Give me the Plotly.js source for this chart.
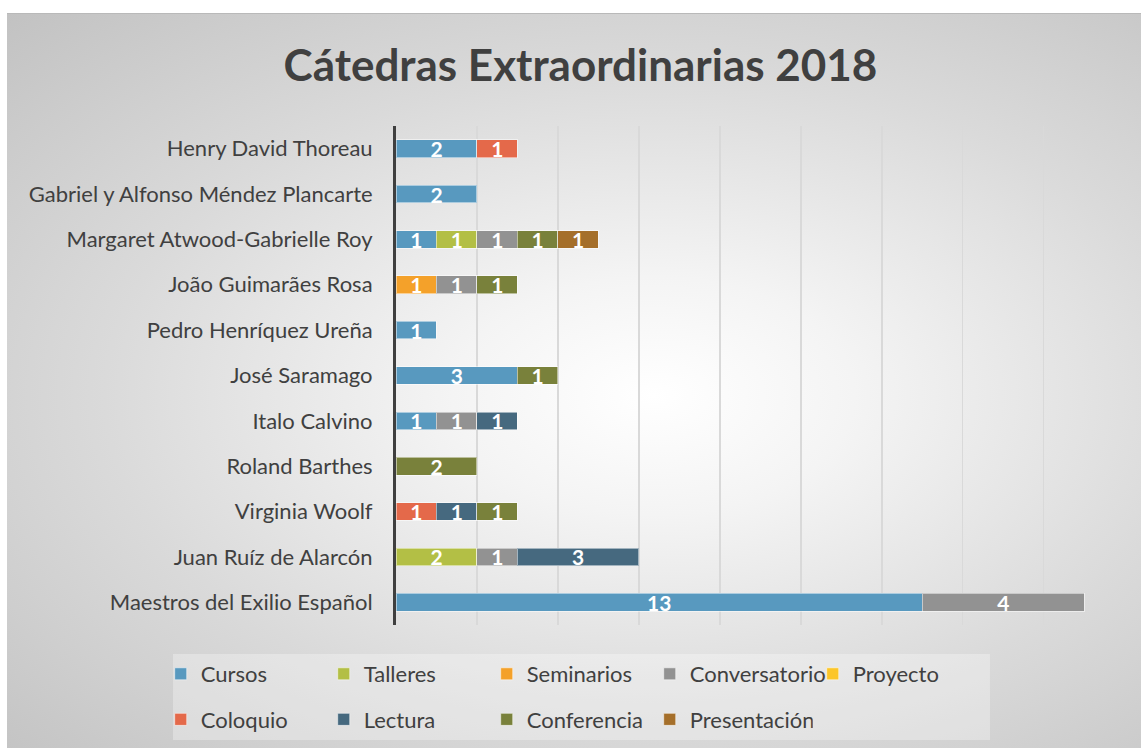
<!DOCTYPE html>
<html>
<head>
<meta charset="utf-8">
<script src="https://cdn.plot.ly/plotly-3.0.1.min.js"></script>
<style>
  html, body { margin: 0; padding: 0; background: #ffffff; width: 1141px; height: 748px; overflow: hidden; }
  #chart {
    position: absolute; left: 7px; top: 13px; width: 1134px; height: 735px;
    background: radial-gradient(ellipse farthest-corner at 57% 52%, #ffffff 0%, #f4f4f4 22%, #dadada 60%, #c2c2c2 100%);
    border-top: 1px solid #b9b9b9; box-sizing: border-box;
  }
</style>
</head>
<body>
<div id="chart"></div>
<script>
// Categories (top to bottom as shown)
const categories = [
  "Henry David Thoreau",
  "Gabriel y Alfonso Méndez Plancarte",
  "Margaret Atwood-Gabrielle Roy",
  "João Guimarães Rosa",
  "Pedro Henríquez Ureña",
  "José Saramago",
  "Italo Calvino",
  "Roland Barthes",
  "Virginia Woolf",
  "Juan Ruíz de Alarcón",
  "Maestros del Exilio Español"
];

const seriesNames = ["Cursos", "Talleres", "Seminarios", "Conversatorio", "Proyecto",
                     "Coloquio", "Lectura", "Conferencia", "Presentación"];

const cursos        = [2, 2, 1, null, 1, 3, 1, null, null, null, 13];
const talleres      = [null, null, 1, null, null, null, null, null, null, 2, null];
const seminarios    = [null, null, null, 1, null, null, null, null, null, null, null];
const conversatorio = [null, null, 1, 1, null, null, 1, null, null, 1, 4];
const proyecto      = [null, null, null, null, null, null, null, null, null, null, null];
const coloquio      = [1, null, null, null, null, null, null, null, 1, null, null];
const lectura       = [null, null, null, null, null, null, 1, null, 1, 3, null];
const conferencia   = [null, null, 1, 1, null, 1, null, 2, 1, null, null];
const presentacion  = [null, null, 1, null, null, null, null, null, null, null, null];

const seriesValues = [cursos, talleres, seminarios, conversatorio, proyecto,
                      coloquio, lectura, conferencia, presentacion];
const seriesColors = ["#5899BF", "#B3BF45", "#F4A12A", "#929292", "#FCC629",
                      "#E4694A", "#46697F", "#79813B", "#A56F2A"];
const legendOf = ["legend", "legend", "legend", "legend", "legend",
                  "legend2", "legend2", "legend2", "legend2"];

const FONT = "Lato, 'Open Sans', sans-serif";

const data = seriesNames.map((name, i) => ({
  type: "bar",
  orientation: "h",
  name: name,
  y: categories,
  x: seriesValues[i],
  text: seriesValues[i].map(v => v == null ? "" : String(v)),
  textposition: "inside",
  insidetextanchor: "middle",
  constraintext: "none",
  textangle: 0,
  textfont: { family: FONT, size: 21, color: "#ffffff", weight: 700 },
  marker: { color: seriesColors[i], line: { color: "rgba(255,255,255,0.5)", width: 1 } },
  legend: legendOf[i],
  hoverinfo: "none"
}));

const layout = {
  width: 1134,
  height: 735,
  paper_bgcolor: "rgba(0,0,0,0)",
  plot_bgcolor: "rgba(0,0,0,0)",
  barmode: "stack",
  bargap: 0.61,
  margin: { l: 389, r: 17, t: 112, b: 124, autoexpand: false },
  font: { family: FONT, color: "#404040" },
  title: {
    text: "<b>Cátedras Extraordinarias 2018</b>",
    font: { family: FONT, size: 44, color: "#404040" },
    x: 0.5057, xref: "container", xanchor: "center",
    y: 1 - 52 / 735, yref: "container", yanchor: "middle"
  },
  xaxis: {
    range: [0, 17.98],
    dtick: 2,
    showticklabels: false,
    showgrid: true,
    gridcolor: "#d9d9d9",
    gridwidth: 1.3,
    zeroline: false,
    showline: false,
    fixedrange: true
  },
  yaxis: {
    type: "category",
    autorange: "reversed",
    showline: true,
    linecolor: "#3f3f3f",
    linewidth: 3,
    showgrid: false,
    zeroline: false,
    ticks: "",
    ticklabelstandoff: 16,
    tickfont: { family: FONT, size: 22, color: "#404040" },
    fixedrange: true
  },
  showlegend: true,
  legend: {
    orientation: "h",
    xref: "paper", yref: "paper",
    x: -0.3232, xanchor: "left",
    y: -0.0982, yanchor: "middle",
    bgcolor: "rgba(0,0,0,0)",
    borderwidth: 0,
    entrywidth: 118,
    entrywidthmode: "pixels",
    traceorder: "normal",
    font: { family: FONT, size: 22, color: "#404040" }
  },
  legend2: {
    orientation: "h",
    xref: "paper", yref: "paper",
    x: -0.3232, xanchor: "left",
    y: -0.1895, yanchor: "middle",
    bgcolor: "rgba(0,0,0,0)",
    borderwidth: 0,
    entrywidth: 118,
    entrywidthmode: "pixels",
    traceorder: "normal",
    font: { family: FONT, size: 22, color: "#404040" }
  },
  shapes: [{
    type: "rect", xref: "paper", yref: "paper",
    x0: -0.3063, x1: 0.8159, y0: -0.2305, y1: -0.0581,
    fillcolor: "rgba(255,255,255,0.3)", line: { width: 0 }, layer: "below"
  }]
};

Plotly.newPlot("chart", data, layout, { displayModeBar: false, staticPlot: true });
</script>
</body>
</html>
